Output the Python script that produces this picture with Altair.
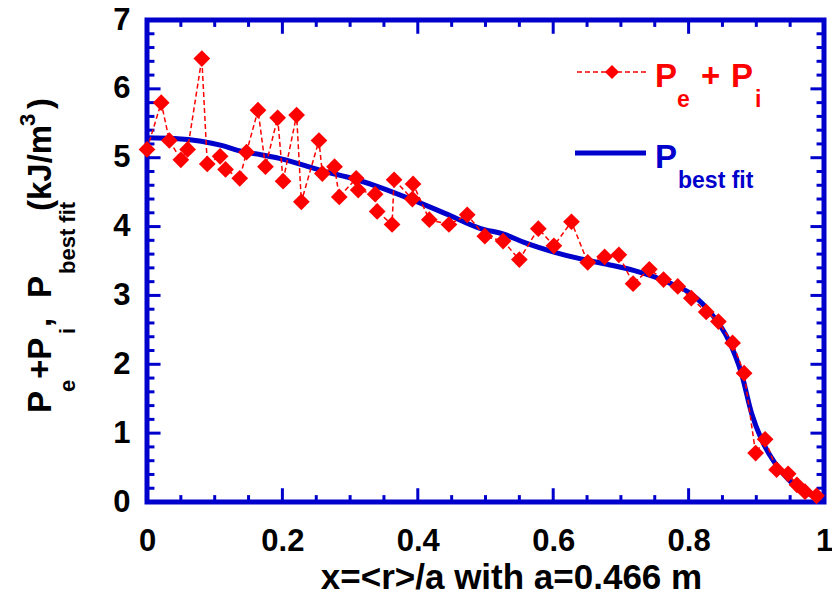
import altair as alt
import pandas as pd

x_meas = [0.000, 0.021, 0.033, 0.050, 0.060, 0.081, 0.089, 0.108, 0.116, 0.137,
          0.147, 0.164, 0.175, 0.193, 0.201, 0.221, 0.228, 0.254, 0.259, 0.277,
          0.284, 0.309, 0.312, 0.337, 0.340, 0.362, 0.365, 0.392, 0.393, 0.417,
          0.446, 0.473, 0.499, 0.526, 0.550, 0.578, 0.601, 0.627, 0.651, 0.676,
          0.697, 0.718, 0.742, 0.763, 0.784, 0.804, 0.826, 0.844, 0.865, 0.882,
          0.899, 0.913, 0.930, 0.947, 0.960, 0.972, 0.989]
y_meas = [5.12, 5.80, 5.25, 4.97, 5.12, 6.44, 4.91, 5.02, 4.83, 4.70,
          5.08, 5.69, 4.87, 5.58, 4.66, 5.62, 4.36, 5.25, 4.77, 4.87,
          4.43, 4.70, 4.53, 4.47, 4.22, 4.03, 4.68, 4.40, 4.62, 4.10,
          4.03, 4.17, 3.86, 3.79, 3.52, 3.97, 3.72, 4.07, 3.48, 3.56,
          3.59, 3.17, 3.38, 3.23, 3.13, 2.96, 2.76, 2.62, 2.31, 1.87,
          0.71, 0.91, 0.47, 0.41, 0.25, 0.15, 0.09]

x_fit = [0.000, 0.040, 0.080, 0.110, 0.137, 0.170, 0.200, 0.255, 0.310, 0.344,
         0.394, 0.443, 0.493, 0.527, 0.557, 0.601, 0.641, 0.681, 0.720, 0.770,
         0.804, 0.834, 0.859, 0.878, 0.893, 0.908, 0.928, 0.948, 0.967, 0.987]
y_fit = [5.29, 5.28, 5.24, 5.18, 5.10, 5.04, 4.98, 4.82, 4.68, 4.57,
         4.38, 4.18, 3.97, 3.89, 3.77, 3.63, 3.53, 3.45, 3.36, 3.19,
         3.02, 2.73, 2.35, 1.87, 1.29, 0.90, 0.56, 0.32, 0.17, 0.08]

x_major = [0, 0.2, 0.4, 0.6, 0.8, 1.0]
x_minor = [round(i * 0.05, 2) for i in range(21) if i % 4 != 0]
y_major = [0, 1, 2, 3, 4, 5, 6, 7]
y_minor = [round(i * 0.2, 1) for i in range(36) if i % 5 != 0]

W, H = 677, 482
BLUE = "#0000CC"
RED = "#FF0000"
FONT = "Liberation Sans"

df_meas = pd.DataFrame({"x": x_meas, "y": y_meas, "i": list(range(len(x_meas)))})
df_fit = pd.DataFrame({"x": x_fit, "y": y_fit})
one = pd.DataFrame({"a": [0]})

xs = alt.Scale(domain=[0, 1], nice=False, zero=False)
ys = alt.Scale(domain=[0, 7], nice=False, zero=False)

fit = alt.Chart(df_fit).mark_line(color=BLUE, strokeWidth=5, interpolate="monotone").encode(
    x=alt.X("x:Q", scale=xs, axis=alt.Axis(
        orient="bottom", values=x_major, format=".1~f", labelFont=FONT, labelFontSize=31,
        labelFontWeight="bold", labelColor="black", labelPadding=24, labelFlush=False,
        ticks=False, tickSize=0, domain=False, grid=False,
        title="x=<r>/a with a=0.466 m", titleFont=FONT, titleFontSize=35, titleFontWeight="bold",
        titleColor="black", titleX=364, titleY=86, titleBaseline="alphabetic", titleAlign="center")),
    y=alt.Y("y:Q", scale=ys, axis=alt.Axis(
        orient="left", values=y_major, format="d", labelFont=FONT, labelFontSize=31,
        labelFontWeight="bold", labelColor="black", labelPadding=17, ticks=False, tickSize=0,
        domain=False, grid=False, labelOverlap=False, title=None)),
)

dash = alt.Chart(df_meas).mark_line(color=RED, strokeWidth=1.5, strokeDash=[5, 3]).encode(
    x=alt.X("x:Q", scale=xs), y=alt.Y("y:Q", scale=ys), order=alt.Order("i:Q"),
)

pts = alt.Chart(df_meas).mark_point(shape="diamond", filled=True, size=280, color=RED, opacity=1).encode(
    x=alt.X("x:Q", scale=xs), y=alt.Y("y:Q", scale=ys),
)

# tick marks as explicit data rows (one row per tick end) so each is a plain rule in data space
tick_rows = []
for v in x_major:
    tick_rows.append({"x1": v, "x2": v, "y1": 0.0, "y2": 0.2, "w": 3})
    tick_rows.append({"x1": v, "x2": v, "y1": 7.0, "y2": 6.8, "w": 3})
for v in x_minor:
    tick_rows.append({"x1": v, "x2": v, "y1": 0.0, "y2": 0.1, "w": 2})
    tick_rows.append({"x1": v, "x2": v, "y1": 7.0, "y2": 6.9, "w": 2})
for v in y_major:
    tick_rows.append({"x1": 0.0, "x2": 0.02, "y1": v, "y2": v, "w": 3})
    tick_rows.append({"x1": 1.0, "x2": 0.98, "y1": v, "y2": v, "w": 3})
for v in y_minor:
    tick_rows.append({"x1": 0.0, "x2": 0.011, "y1": v, "y2": v, "w": 2})
    tick_rows.append({"x1": 1.0, "x2": 0.989, "y1": v, "y2": v, "w": 2})
df_ticks = pd.DataFrame(tick_rows)

ticks = alt.Chart(df_ticks).mark_rule(color=BLUE, strokeWidth=3).encode(
    x=alt.X("x1:Q", scale=xs), x2="x2", y=alt.Y("y1:Q", scale=ys), y2="y2",
)

frame = alt.Chart(one).mark_rect(fillOpacity=0, stroke=BLUE, strokeWidth=5).encode(
    x=alt.value(0), x2=alt.value(W), y=alt.value(0), y2=alt.value(H))


def txt(s, x, y, size, color="black", angle=0):
    return alt.Chart(one).mark_text(text=s, font=FONT, fontWeight="bold", fontSize=size, color=color,
                                    align="left", baseline="alphabetic", angle=angle).encode(
        x=alt.value(x), y=alt.value(y))


leg = [
    alt.Chart(one).mark_rule(color=RED, strokeWidth=1.5, strokeDash=[5, 3]).encode(
        x=alt.value(430), x2=alt.value(500), y=alt.value(52)),
    alt.Chart(one).mark_point(shape="diamond", filled=True, size=200, color=RED, opacity=1).encode(
        x=alt.value(465), y=alt.value(52)),
    txt("P", 508, 67, 33, RED), txt("e", 530, 87, 23, RED),
    txt("+", 554, 67, 33, RED), txt("P", 584, 67, 33, RED), txt("i", 608, 87, 23, RED),
    alt.Chart(one).mark_rule(color=BLUE, strokeWidth=5).encode(
        x=alt.value(428), x2=alt.value(499), y=alt.value(133)),
    txt("P", 508, 148, 33, BLUE), txt("best fit", 531, 168, 23, BLUE),
]

MX, SX, PX = -96, -72, -112
ytitle = [
    txt("P", MX, 393, 33, angle=270),
    txt("e", SX, 372, 22, angle=270),
    txt("+P", MX, 359, 33, angle=270),
    txt("i", SX, 314, 22, angle=270),
    txt(",", MX, 307, 33, angle=270),
    txt("P", MX, 278, 33, angle=270),
    txt("best fit", SX, 254, 22, angle=270),
    txt("(kJ/m", MX, 191, 33, angle=270),
    txt("3", PX, 106, 22, angle=270),
    txt(")", MX, 89, 33, angle=270),
]

chart = alt.layer(frame, ticks, fit, dash, pts, *leg, *ytitle).properties(
    width=W, height=H,
    autosize=alt.AutoSizeParams(type="none"),
    padding={"left": 147, "top": 20, "right": 8, "bottom": 98},
).configure_view(stroke=None).configure(background="white")

chart.save("out.html", embed_options={"renderer": "svg", "actions": False})
